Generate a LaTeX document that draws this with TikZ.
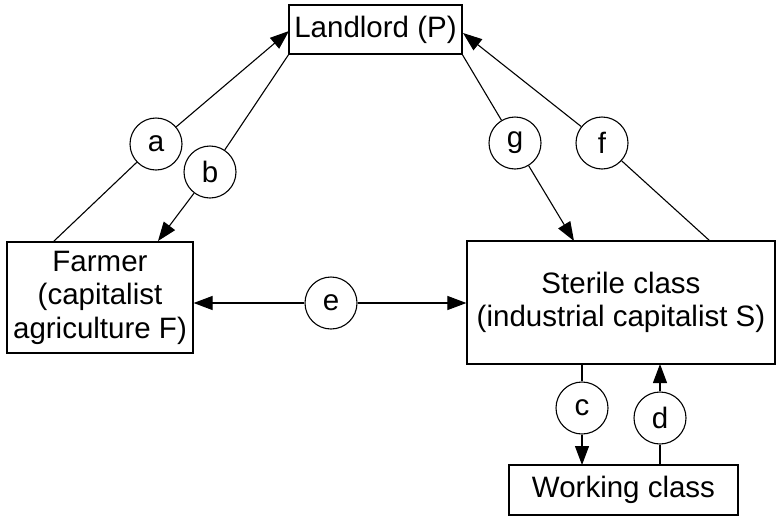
\documentclass[tikz,border=0pt]{standalone}
\usepackage{fontspec}
\setmainfont{Liberation Sans}
\usetikzlibrary{arrows.meta}
\begin{document}
\begin{tikzpicture}[x=1pt,y=-1pt,
  box/.style={draw, line width=1.2pt, rectangle, inner sep=0pt, align=center,
    font=\fontsize{29.5}{33.5}\selectfont},
  circ/.style={draw, line width=1.1pt, circle, minimum size=52pt, inner sep=0pt,
    font=\fontsize{29.5}{33.5}\selectfont},
  conn/.style={line width=1.1pt},
  arr/.style={line width=1.1pt, -{Triangle[length=19pt,width=14pt]}}]
\useasboundingbox (0,0) rectangle (781,517);
% boxes
\node[box, minimum width=173pt, minimum height=49pt] (land) at (375.5,29.5) {Landlord (P)};
\node[box, minimum width=186pt, minimum height=111pt] (farm) at (100,297.5) {Farmer\\(capitalist\\agriculture F)};
\node[box, minimum width=308pt, minimum height=123pt] (ster) at (621,302.5) {Sterile class\\(industrial capitalist S)};
\node[box, minimum width=229pt, minimum height=50pt] (work) at (623.5,490) {Working class};
% circles
\node[circ] (a) at (156,144) {a};
\node[circ] (b) at (210,172) {b};
\node[circ] (g) at (515,143) {g};
\node[circ] (f) at (602,143) {f};
\node[circ] (e) at (331,303) {e};
\node[circ] (c) at (582,408) {c};
\node[circ] (d) at (660,418) {d};
% connector end points
\coordinate (a1) at (53,242);
\coordinate (a2) at (289,31);
\coordinate (b1) at (289,54);
\coordinate (b2) at (158,241);
\coordinate (g1) at (462,54);
\coordinate (g2) at (574,241);
\coordinate (f1) at (710,241);
\coordinate (f2) at (463,33);
\coordinate (c1) at (582,364);
\coordinate (c2) at (582,465);
\coordinate (d1) at (660,465);
\coordinate (d2) at (660,364);
% connectors
\draw[conn] (a1) -- (a);
\draw[arr] (a) -- (a2);
\draw[conn] (b1) -- (b);
\draw[arr] (b) -- (b2);
\draw[conn] (g1) -- (g);
\draw[arr] (g) -- (g2);
\draw[conn] (f1) -- (f);
\draw[arr] (f) -- (f2);
\draw[arr] (e) -- (farm.east |- e);
\draw[arr] (e) -- (ster.west |- e);
\draw[conn] (c1) -- (c);
\draw[arr] (c) -- (c2);
\draw[conn] (d1) -- (d);
\draw[arr] (d) -- (d2);
\end{tikzpicture}
\end{document}
